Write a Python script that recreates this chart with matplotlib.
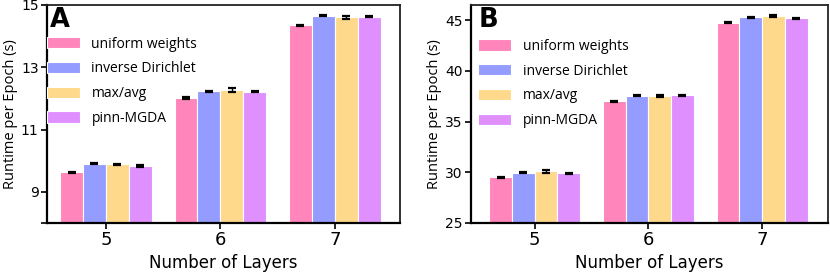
import matplotlib
matplotlib.use("Agg")
import matplotlib.pyplot as plt
import numpy as np

layers = [5, 6, 7]
methods = ["uniform weights", "inverse Dirichlet", "max/avg", "pinn-MGDA"]
colors = ["#FF85BB", "#959CFF", "#FFD98B", "#E08FFF"]

# Panel A
a_vals = {
    "uniform weights":   [9.63, 12.01, 14.35],
    "inverse Dirichlet": [9.90, 12.23, 14.66],
    "max/avg":           [9.88, 12.27, 14.61],
    "pinn-MGDA":         [9.83, 12.22, 14.63],
}
a_err = {
    "uniform weights":   [0.02, 0.02, 0.02],
    "inverse Dirichlet": [0.02, 0.02, 0.02],
    "max/avg":           [0.03, 0.05, 0.05],
    "pinn-MGDA":         [0.02, 0.02, 0.02],
}
# Panel B
b_vals = {
    "uniform weights":   [29.52, 37.00, 44.74],
    "inverse Dirichlet": [29.95, 37.56, 45.27],
    "max/avg":           [30.11, 37.52, 45.44],
    "pinn-MGDA":         [29.89, 37.59, 45.17],
}
b_err = {
    "uniform weights":   [0.06, 0.06, 0.05],
    "inverse Dirichlet": [0.06, 0.06, 0.06],
    "max/avg":           [0.15, 0.08, 0.08],
    "pinn-MGDA":         [0.06, 0.06, 0.08],
}

fig = plt.figure(figsize=(8.3, 2.77), dpi=100)
axA = fig.add_axes([47/830, 1-223/277, (400-47)/830, 218/277])
axB = fig.add_axes([471/830, 1-223/277, (828-471)/830, 218/277])

width = 0.2
offsets = [-1.5, -0.5, 0.5, 1.5]

def draw(ax, vals, errs, ylim, yticks, yticklabels, xlim, letter, leg_anchor, letter_x):
    x = np.array(layers, dtype=float)
    for m, c, o in zip(methods, colors, offsets):
        ax.bar(x + o*width, vals[m], width, color=c, edgecolor="white", linewidth=0.8,
               label=m, zorder=2)
        ax.errorbar(x + o*width, vals[m], yerr=errs[m], fmt="none", ecolor="black",
                    elinewidth=1.0, capsize=2.6, capthick=1.6, zorder=3)
    ax.set_ylim(*ylim)
    ax.set_xlim(*xlim)
    ax.set_yticks(yticks)
    ax.set_yticklabels(yticklabels, fontsize=10)
    ax.set_xticks(layers)
    ax.set_xticklabels([str(l) for l in layers], fontsize=13)
    ax.set_xlabel("Number of Layers", fontsize=12, labelpad=3)
    ax.set_ylabel("Runtime per Epoch (s)", fontsize=10.5, family="Open Sans", labelpad=2)
    for name, s in ax.spines.items():
        if name in ("left", "bottom"):
            s.set_linewidth(1.6)
            s.set_color("#000000")
        else:
            s.set_linewidth(1.3)
            s.set_color("#222222")
    ax.tick_params(axis="both", width=1.2, length=4, pad=2)
    ax.text(letter_x, 0.99, letter, transform=ax.transAxes, fontsize=18.5,
            fontweight="bold", va="top", ha="left")
    ax.legend(loc="upper left", bbox_to_anchor=leg_anchor, frameon=False,
              prop={"family": "Open Sans", "size": 10}, handlelength=2.4,
              handleheight=0.85, handletextpad=0.8, labelspacing=0.7,
              borderaxespad=0, borderpad=0)

draw(axA, a_vals, a_err, (8, 15), [8, 9, 11, 13, 15], ["", "9", "11", "13", "15"],
     (4.485, 7.57), "A", (0.0, 0.855), 0.008)
draw(axB, b_vals, b_err, (25, 46.5), [25, 30, 35, 40, 45], ["25", "30", "35", "40", "45"],
     (4.44, 7.58), "B", (0.02, 0.845), 0.022)

fig.savefig("out.png", dpi=100)
